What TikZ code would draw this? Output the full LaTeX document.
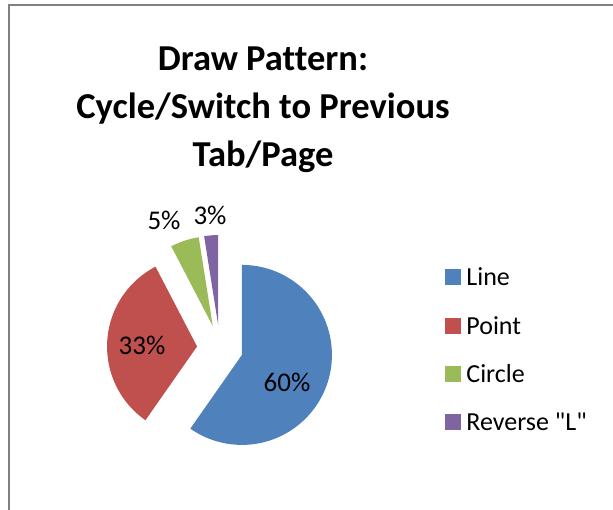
\documentclass[tikz,border=0pt]{standalone}
\usepackage[usenames,dvipsnames,svgnames,table]{xcolor}
\usepackage{fontspec}
\setmainfont{Carlito}[Ligatures=NoCommon]
\newfontfamily\keyfont{Carlito}
\usepackage{tikz}
\usetikzlibrary{positioning}
\definecolor{partline}{HTML}{4F81BD}
\definecolor{partpoint}{HTML}{C0504D}
\definecolor{partcircle}{HTML}{9BBB59}
\definecolor{partreverse}{HTML}{8064A2}
\tikzset{
	pct/.style={font=\fontsize{27}{27}\selectfont, inner sep=0pt},
	keybox/.style={minimum size=16, inner sep=0pt},
	keytext/.style={font=\keyfont\fontsize{26}{26}\selectfont, inner sep=0pt, anchor=west}
}
\newcommand{\pieslice}[3] % {couleur}{angle debut}{angle fin}
{
	\fill [#1, shift={({(#2+#3)/2}:23)}] (0,0) -- (#2:90) arc [start angle=#2, end angle=#3, radius=90] -- cycle;
}

\begin{document}
\begin{tikzpicture}[x=1pt, y=1pt]
	\useasboundingbox (0,0) rectangle (613,510);

	%	\foreach \i in {0,50,...,600} {
	%        \draw [very thin,gray] (\i,0) -- (\i,510);
	%    }

	\draw[Gray, line width=1.5] (9,0) -- (9,505) -- (613,505);

	\node [font=\bfseries\fontsize{36.5}{48}\selectfont, align=center] (title) at (263,400) {Draw Pattern:\\Cycle/Switch to Previous\\Tab/Page};

	\begin{scope}[shift={(220,162)}]
		\pieslice{partline}{90}{-125}
		\pieslice{partpoint}{235}{117.5}
		\pieslice{partcircle}{117.5}{99}
		\pieslice{partreverse}{99}{90}
	\end{scope}

	\node [pct] (lblline) at (287,128) {60\%};
	\node [pct] (lblpoint) at (142,165) {33\%};
	\node [pct] (lblcircle) at (164,290) {5\%};
	\node [pct] (lblreverse) at (210,295) {3\%};

	\node [keybox, fill=partline] (keyline) at (453,233) {};
	\node [keybox, fill=partpoint] (keypoint) at (453,184) {};
	\node [keybox, fill=partcircle] (keycircle) at (453,136) {};
	\node [keybox, fill=partreverse] (keyreverse) at (453,88) {};
	\node [keytext, right=5 of keyline] (txtline) {Line};
	\node [keytext, right=5 of keypoint] (txtpoint) {Point};
	\node [keytext, right=5 of keycircle] (txtcircle) {Circle};
	\node [keytext, right=5 of keyreverse] (txtreverse) {Reverse "L"};
\end{tikzpicture}
\end{document}
